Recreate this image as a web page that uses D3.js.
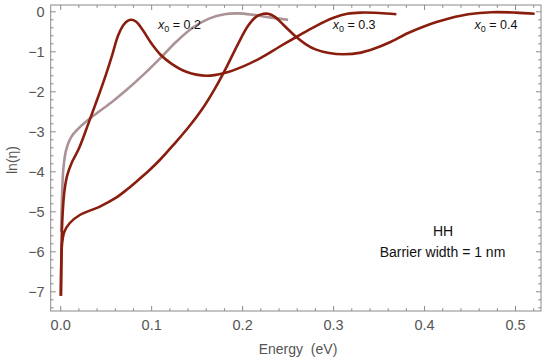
<!DOCTYPE html>
<html><head><meta charset="utf-8">
<script src="https://cdn.jsdelivr.net/npm/d3@7"></script>
<style>body{margin:0;background:#fff;} svg{display:block;}</style>
</head><body>
<svg id="c" width="550" height="364"></svg>
<script>
// ---- data ----
const seriesNames = ["x0 = 0.2", "x0 = 0.3", "x0 = 0.4"];
const curveX02 = [[0.0005,-5.5],[0.0015,-4.6],[0.003,-3.9],[0.006,-3.45],[0.011,-3.15],[0.018,-2.95],[0.027,-2.76],[0.04,-2.53],[0.057,-2.24],[0.0725,-1.95],[0.091,-1.57],[0.109,-1.17],[0.127,-0.75],[0.145,-0.4],[0.163,-0.17],[0.18,-0.06],[0.195,-0.04],[0.21,-0.07],[0.23,-0.14],[0.25,-0.2]];
const curveX03 = [[0.0002,-7.1],[0.0008,-6.0],[0.002,-5.1],[0.004,-4.5],[0.007,-4.1],[0.012,-3.78],[0.02,-3.42],[0.03,-2.82],[0.04,-2.2],[0.05,-1.55],[0.057,-1.05],[0.063,-0.6],[0.069,-0.33],[0.074,-0.22],[0.078,-0.2],[0.083,-0.25],[0.09,-0.45],[0.1,-0.8],[0.11,-1.08],[0.122,-1.3],[0.138,-1.5],[0.16,-1.6],[0.18,-1.53],[0.2,-1.37],[0.22,-1.15],[0.24,-0.88],[0.259,-0.63],[0.281,-0.35],[0.3,-0.15],[0.315,-0.05],[0.33,-0.02],[0.35,-0.03],[0.369,-0.06]];
const curveX04 = [[0.0002,-7.1],[0.0008,-6.2],[0.0015,-5.8],[0.004,-5.5],[0.01,-5.28],[0.021,-5.08],[0.043,-4.87],[0.06,-4.66],[0.0725,-4.45],[0.0835,-4.24],[0.098,-3.95],[0.11,-3.68],[0.125,-3.3],[0.14,-2.9],[0.155,-2.45],[0.17,-1.9],[0.183,-1.35],[0.195,-0.8],[0.206,-0.35],[0.215,-0.12],[0.223,-0.05],[0.228,-0.05],[0.235,-0.12],[0.245,-0.33],[0.259,-0.63],[0.27,-0.82],[0.28,-0.94],[0.295,-1.03],[0.311,-1.06],[0.33,-1.02],[0.345,-0.92],[0.36,-0.78],[0.382,-0.53],[0.4,-0.36],[0.419,-0.22],[0.435,-0.12],[0.448,-0.06],[0.474,-0.01],[0.5,-0.02],[0.521,-0.05]];
const labelPos = [[0.107,-0.43],[0.299,-0.43],[0.455,-0.43]];
const labelSub = ["0.2","0.3","0.4"];
const xTicks = [0.0,0.1,0.2,0.3,0.4,0.5];
const xTickLabels = ["0.0","0.1","0.2","0.3","0.4","0.5"];
const yTicks = [0,-1,-2,-3,-4,-5,-6,-7];
const yTickLabels = ["0","\u22121","\u22122","\u22123","\u22124","\u22125","\u22126","\u22127"];
const xTitle = "Energy  (eV)";
const yTitle = "ln(\u03B7)";
const note1 = "HH", note2 = "Barrier width = 1 nm";

// ---- layout ----
const L = 50.7, R = 541, T = 5, B = 311;
const x = d3.scaleLinear().domain([-0.011, 0.528]).range([L, R]);
const y = d3.scaleLinear().domain([-7.48, 0.17]).range([B, T]);
const svg = d3.select("#c");
const frameCol = "#8a8a8a", textCol = "#555";
const font = "'Liberation Sans', Arial, sans-serif";

// curves
const line = d3.line().x(d => x(d[0])).y(d => y(d[1])).curve(d3.curveCatmullRom.alpha(0.5));
const g = svg.append("g");
g.append("path").datum(curveX02).attr("d", line).attr("fill","none")
  .attr("stroke","#9c7f82").attr("stroke-opacity",0.85).attr("stroke-width",2.6);
[curveX03, curveX04].forEach(c => {
  g.append("path").datum(c).attr("d", line).attr("fill","none")
   .attr("stroke","#8a1e0e").attr("stroke-width",2.6).attr("stroke-linejoin","round");
});

// frame
svg.append("rect").attr("x",L).attr("y",T).attr("width",R-L).attr("height",B-T)
  .attr("fill","none").attr("stroke",frameCol).attr("stroke-width",1);

// ticks (inward, all four sides)
const xMinor = d3.range(0, 0.53, 0.02).filter(v => Math.abs(v*10 - Math.round(v*10)) > 1e-6);
const yMinor = d3.range(-7.4, 0.17, 0.2).filter(v => Math.abs(v - Math.round(v)) > 1e-6);
const tk = svg.append("g").attr("stroke",frameCol).attr("stroke-width",1);
function xt(vals, len){ vals.forEach(v => {
  tk.append("line").attr("x1",x(v)).attr("x2",x(v)).attr("y1",B).attr("y2",B-len);
  tk.append("line").attr("x1",x(v)).attr("x2",x(v)).attr("y1",T).attr("y2",T+len);
});}
function yt(vals, len){ vals.forEach(v => {
  tk.append("line").attr("y1",y(v)).attr("y2",y(v)).attr("x1",L).attr("x2",L+len);
  tk.append("line").attr("y1",y(v)).attr("y2",y(v)).attr("x1",R).attr("x2",R-len);
});}
xt(xTicks, 5); xt(xMinor, 2.8); yt(yTicks, 5); yt(yMinor, 2.8);

// tick labels
svg.append("g").selectAll("text").data(xTicks).join("text")
  .attr("x", d => x(d)).attr("y", B + 19).attr("text-anchor","middle")
  .attr("font-family",font).attr("font-size",14.5).attr("fill",textCol)
  .text((d,i) => xTickLabels[i]);
svg.append("g").selectAll("text").data(yTicks).join("text")
  .attr("x", L - 6).attr("y", d => y(d) + 5).attr("text-anchor","end")
  .attr("font-family",font).attr("font-size",14.5).attr("fill",textCol)
  .text((d,i) => yTickLabels[i]);

// axis titles
svg.append("text").attr("x", 298).attr("y", 354).attr("text-anchor","middle")
  .attr("font-family",font).attr("font-size",14).attr("fill",textCol)
  .attr("xml:space","preserve").style("white-space","pre").text(xTitle);
svg.append("text").attr("transform","translate(17,160) rotate(-90)").attr("text-anchor","middle")
  .attr("font-family",font).attr("font-size",14).attr("fill",textCol).text(yTitle);

// curve labels
labelPos.forEach((p,i) => {
  const t = svg.append("text").attr("x", x(p[0])).attr("y", y(p[1]))
    .attr("font-family",font).attr("font-size",12.5).attr("fill","#111");
  t.append("tspan").attr("font-style","italic").text("x");
  t.append("tspan").attr("font-size",9).attr("dy",3).text("0");
  t.append("tspan").attr("dy",-3).text(" = " + labelSub[i]);
});

// notes
svg.append("text").attr("x",443).attr("y",236).attr("text-anchor","middle")
  .attr("font-family",font).attr("font-size",14).attr("fill","#111").text(note1);
svg.append("text").attr("x",442.5).attr("y",257).attr("text-anchor","middle")
  .attr("font-family",font).attr("font-size",14).attr("fill","#111").text(note2);
</script>
</body></html>
